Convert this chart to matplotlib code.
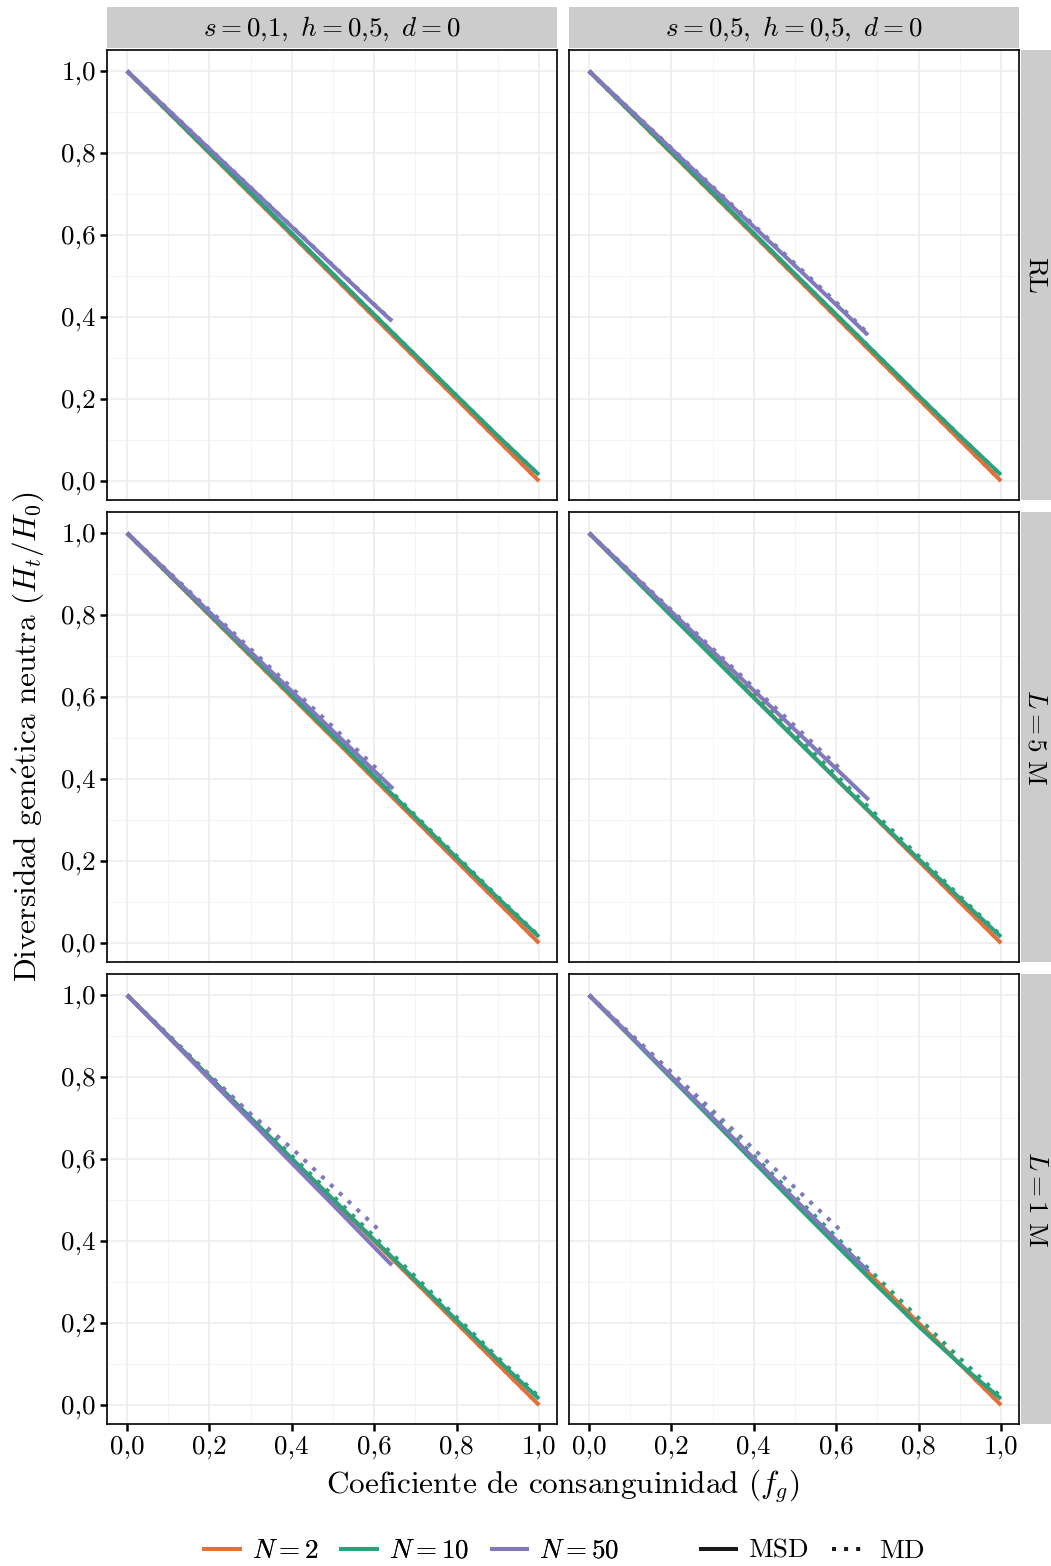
import matplotlib
matplotlib.use("Agg")
import matplotlib.pyplot as plt
from matplotlib.lines import Line2D

plt.rcParams['font.family'] = 'serif'
plt.rcParams['font.serif'] = ['cmr10', 'DejaVu Serif']
plt.rcParams['mathtext.fontset'] = 'cm'
plt.rcParams['axes.formatter.use_mathtext'] = True
plt.rcParams['axes.unicode_minus'] = False

# ---- data ----
f_full = [0.0, 0.1, 0.2, 0.3, 0.4, 0.5, 0.6, 0.7, 0.8, 0.9, 1.0]
h_n2 = [1.0, 0.9, 0.8, 0.7, 0.6, 0.5, 0.4, 0.3, 0.2, 0.1, 0.0]
h_n10 = [1.0, 0.901, 0.802, 0.703, 0.604, 0.505, 0.406, 0.307, 0.208, 0.11, 0.015]

# RL, s=0,1
rl_s01_f50 = [0.0, 0.1, 0.2, 0.3, 0.4, 0.5, 0.6, 0.643]
rl_s01_n50 = [1.0, 0.905, 0.81, 0.715, 0.62, 0.525, 0.43, 0.39]
rl_s01_n50_md = [1.0, 0.906, 0.811, 0.716, 0.621, 0.526, 0.431, 0.391]
# RL, s=0,5
rl_s05_f50 = [0.0, 0.1, 0.2, 0.3, 0.4, 0.5, 0.6, 0.677]
rl_s05_n50 = [1.0, 0.905, 0.81, 0.715, 0.62, 0.525, 0.43, 0.356]
rl_s05_n50_md = [1.0, 0.906, 0.812, 0.718, 0.624, 0.53, 0.436, 0.36]

# L = 5 M, s=0,1
l5_s01_f50 = [0.0, 0.1, 0.2, 0.3, 0.4, 0.5, 0.6, 0.646]
l5_s01_n50 = [1.0, 0.904, 0.807, 0.71, 0.614, 0.517, 0.42, 0.376]
l5_s01_f50_md = [0.0, 0.1, 0.2, 0.3, 0.4, 0.5, 0.6, 0.62]
l5_s01_n50_md = [1.0, 0.906, 0.812, 0.717, 0.622, 0.527, 0.431, 0.412]
l5_s01_n10_md = [1.0, 0.903, 0.805, 0.707, 0.608, 0.509, 0.41, 0.311, 0.212, 0.113, 0.017]
# L = 5 M, s=0,5
l5_s05_f50 = [0.0, 0.1, 0.2, 0.3, 0.4, 0.5, 0.6, 0.679]
l5_s05_n50 = [1.0, 0.904, 0.808, 0.712, 0.616, 0.52, 0.425, 0.349]
l5_s05_f50_md = [0.0, 0.1, 0.2, 0.3, 0.4, 0.5, 0.6, 0.62]
l5_s05_n50_md = [1.0, 0.906, 0.812, 0.718, 0.623, 0.529, 0.434, 0.415]
l5_s05_n10 = [1.0, 0.899, 0.798, 0.698, 0.598, 0.499, 0.4, 0.302, 0.205, 0.109, 0.015]
l5_s05_n10_md = [1.0, 0.905, 0.806, 0.707, 0.607, 0.508, 0.409, 0.31, 0.212, 0.114, 0.018]

# L = 1 M, s=0,1
l1_s01_f50 = [0.0, 0.1, 0.2, 0.3, 0.4, 0.5, 0.6, 0.643]
l1_s01_n50 = [1.0, 0.898, 0.795, 0.693, 0.59, 0.488, 0.385, 0.341]
l1_s01_f50_md = [0.0, 0.1, 0.2, 0.3, 0.4, 0.5, 0.6, 0.621]
l1_s01_n50_md = [1.0, 0.902, 0.805, 0.71, 0.626, 0.532, 0.438, 0.417]
l1_s01_n10 = [1.0, 0.9, 0.8, 0.7, 0.601, 0.502, 0.403, 0.305, 0.207, 0.11, 0.015]
l1_s01_n10_md = [1.0, 0.903, 0.805, 0.707, 0.608, 0.51, 0.411, 0.313, 0.214, 0.116, 0.02]
# L = 1 M, s=0,5
l1_s05_f50 = [0.0, 0.1, 0.2, 0.3, 0.4, 0.5, 0.6, 0.679]
l1_s05_n50 = [1.0, 0.901, 0.801, 0.701, 0.601, 0.501, 0.402, 0.325]
l1_s05_f50_md = [0.0, 0.1, 0.2, 0.3, 0.4, 0.5, 0.6, 0.62]
l1_s05_n50_md = [1.0, 0.906, 0.812, 0.718, 0.624, 0.53, 0.436, 0.417]
l1_s05_n10 = [1.0, 0.899, 0.797, 0.695, 0.593, 0.491, 0.39, 0.29, 0.192, 0.1, 0.015]
l1_s05_n10_md = [1.0, 0.903, 0.805, 0.707, 0.608, 0.509, 0.41, 0.311, 0.212, 0.114, 0.02]

col_titles = [r'$s = 0{,}1,\ h = 0{,}5,\ d = 0$', r'$s = 0{,}5,\ h = 0{,}5,\ d = 0$']
row_titles = ['RL', r'$L = 5\ \mathrm{M}$', r'$L = 1\ \mathrm{M}$']
tick_vals = [0.0, 0.2, 0.4, 0.6, 0.8, 1.0]
tick_labels = ['0,0', '0,2', '0,4', '0,6', '0,8', '1,0']

# (row, col) -> list of (f, h, N-index)
panels = {
    (0, 0): [(f_full, h_n2, 0), (f_full, h_n10, 1), (rl_s01_f50, rl_s01_n50, 2)],
    (0, 1): [(f_full, h_n2, 0), (f_full, h_n10, 1), (rl_s05_f50, rl_s05_n50, 2)],
    (1, 0): [(f_full, h_n2, 0), (f_full, h_n10, 1), (l5_s01_f50, l5_s01_n50, 2)],
    (1, 1): [(f_full, h_n2, 0), (f_full, l5_s05_n10, 1), (l5_s05_f50, l5_s05_n50, 2)],
    (2, 0): [(f_full, h_n2, 0), (f_full, l1_s01_n10, 1), (l1_s01_f50, l1_s01_n50, 2)],
    (2, 1): [(f_full, h_n2, 0), (f_full, l1_s05_n10, 1), (l1_s05_f50, l1_s05_n50, 2)],
}
panels_md = {
    (0, 0): [(f_full, h_n2, 0), (f_full, h_n10, 1), (rl_s01_f50, rl_s01_n50_md, 2)],
    (0, 1): [(f_full, h_n2, 0), (f_full, h_n10, 1), (rl_s05_f50, rl_s05_n50_md, 2)],
    (1, 0): [(f_full, h_n2, 0), (f_full, l5_s01_n10_md, 1), (l5_s01_f50_md, l5_s01_n50_md, 2)],
    (1, 1): [(f_full, h_n2, 0), (f_full, l5_s05_n10_md, 1), (l5_s05_f50_md, l5_s05_n50_md, 2)],
    (2, 0): [(f_full, h_n2, 0), (f_full, l1_s01_n10_md, 1), (l1_s01_f50_md, l1_s01_n50_md, 2)],
    (2, 1): [(f_full, h_n2, 0), (f_full, l1_s05_n10_md, 1), (l1_s05_f50_md, l1_s05_n50_md, 2)],
}

colors = ['#E2703A', '#2DA07C', '#8079BC']
W, H = 1051, 1566
fig = plt.figure(figsize=(W / 100, H / 100), dpi=100)

col_x = [107, 569]
row_y = [50, 512, 974]
pw, ph = 450, 450
lw = 2.9
dot = (0, (1, 2))


def box(x, y, w, h):
    return [x / W, 1 - (y + h) / H, w / W, h / H]


for (r, c), series in panels.items():
    ax = fig.add_axes(box(col_x[c], row_y[r], pw, ph))
    ax.set_xlim(-0.0485, 1.0437)
    ax.set_ylim(-0.0463, 1.0512)
    ax.set_xticks(tick_vals)
    ax.set_yticks(tick_vals)
    ax.set_xticks([0.1, 0.3, 0.5, 0.7, 0.9], minor=True)
    ax.set_yticks([0.1, 0.3, 0.5, 0.7, 0.9], minor=True)
    ax.grid(True, which='major', color='#EBEBEB', lw=1.1)
    ax.grid(True, which='minor', color='#F2F2F2', lw=0.6)
    ax.set_axisbelow(True)
    for sp in ax.spines.values():
        sp.set_color('black')
        sp.set_linewidth(1.2)
    ax.tick_params(which='minor', length=0)
    ax.tick_params(which='major', length=5, width=1.8, color='black',
                   labelsize=19.5, pad=3)
    if c == 0:
        ax.set_yticklabels(tick_labels)
    else:
        ax.tick_params(axis='y', length=0, labelleft=False)
    if r == 2:
        ax.set_xticklabels(tick_labels)
    else:
        ax.tick_params(axis='x', length=0, labelbottom=False)

    for fx, hy, k in series:
        ax.plot(fx, hy, color=colors[k], lw=lw, solid_capstyle='butt', zorder=3 + k)
    for fx, hy, k in panels_md[(r, c)]:
        ax.plot(fx, hy, color=colors[k], lw=lw, linestyle=dot,
                dash_capstyle='butt', zorder=3.5 + k)

# strips
for c in range(2):
    sax = fig.add_axes(box(col_x[c], 7, pw, 41))
    sax.set_facecolor('#CCCCCC')
    sax.set_xticks([])
    sax.set_yticks([])
    for sp in sax.spines.values():
        sp.set_visible(False)
    sax.text(0.5, 0.48, col_titles[c], ha='center', va='center', fontsize=19.5,
             transform=sax.transAxes)
for r in range(3):
    sax = fig.add_axes(box(1021, row_y[r], 32, ph))
    sax.set_facecolor('#CCCCCC')
    sax.set_xticks([])
    sax.set_yticks([])
    for sp in sax.spines.values():
        sp.set_visible(False)
    sax.text(0.45, 0.5, row_titles[r], ha='center', va='center', fontsize=19.5,
             rotation=-90, transform=sax.transAxes)

fig.text(563 / W, 1 - 1486 / H, r'Coeficiente de consanguinidad $(f_g)$',
         ha='center', va='center', fontsize=22.5)
fig.text(28 / W, 1 - 737 / H, r'Diversidad gen$\mathrm{\acute{e}}$tica neutra $(H_t/H_0)$',
         ha='center', va='center', rotation=90, fontsize=22.5)

# legends
n_handles = [Line2D([], [], color=colors[k], lw=lw) for k in range(3)]
n_labels = [r'$N = 2$', r'$N = 10$', r'$N = 50$']
leg1 = fig.legend(n_handles, n_labels, loc='center', bbox_to_anchor=(412 / W, 1 - 1551 / H),
                  ncol=3, frameon=False, fontsize=19.5, handlelength=1.3,
                  handletextpad=0.45, columnspacing=0.85, borderpad=0)
lt_handles = [Line2D([], [], color='#1A1A1A', lw=lw),
              Line2D([], [], color='#1A1A1A', lw=lw, linestyle=dot, dash_capstyle='butt')]
leg2 = fig.legend(lt_handles, ['MSD', 'MD'], loc='center', bbox_to_anchor=(813 / W, 1 - 1551 / H),
                  ncol=2, frameon=False, fontsize=19.5, handlelength=1.3,
                  handletextpad=0.45, columnspacing=0.85, borderpad=0)
fig.add_artist(leg1)

fig.savefig('out.png', dpi=100)
